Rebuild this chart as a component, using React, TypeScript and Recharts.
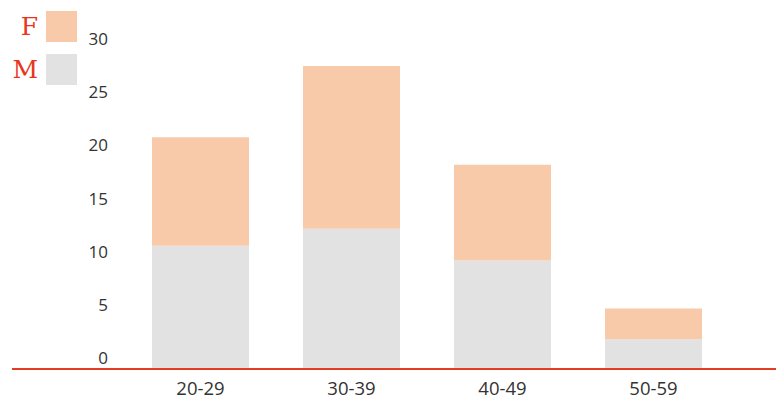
import React from "react";
import { BarChart, Bar, XAxis, YAxis } from "recharts";

const categories = ["20-29", "30-39", "40-49", "50-59"];
const maleValues = [11.6, 13.2, 10.2, 2.8];
const femaleValues = [10.2, 15.3, 9.0, 2.9];
const yTicks = [0, 5, 10, 15, 20, 25, 30];
const seriesNames = ["F", "M"];
const seriesColors = ["#f8caa9", "#e2e2e2"];

const data = categories.map((c, i) => ({ cat: c, M: maleValues[i], F: femaleValues[i] }));

const YTick = (props: any) => {
  const { y, payload } = props;
  return (
    <text x={108} y={y} dy={-5} textAnchor="end" fontSize={17} fill="#333" fontFamily="'Open Sans', sans-serif">
      {payload.value}
    </text>
  );
};

const XTick = (props: any) => {
  const { x, y, payload } = props;
  return (
    <text x={x} y={y} dy={18} textAnchor="middle" fontSize={18.5} fill="#333" fontFamily="'Open Sans', sans-serif">
      {payload.value}
    </text>
  );
};

export default function App() {
  return (
    <div style={{ position: "absolute", left: 0, top: 0, width: 776, height: 400, background: "#fff" }}>
      <BarChart
        width={776}
        height={400}
        data={data}
        margin={{ top: 50, right: 0, left: 11, bottom: 0 }}
      >
        <YAxis
          width={1}
          domain={[0, 30]}
          ticks={yTicks}
          axisLine={false}
          tickLine={false}
          tick={<YTick />}
          interval={0}
        />
        <XAxis
          dataKey="cat"
          height={31}
          padding={{ left: 113, right: 47 }}
          axisLine={{ stroke: "#e23d22", strokeWidth: 2 }}
          tickLine={false}
          tick={<XTick />}
        />
        <Bar dataKey="M" stackId="a" fill={seriesColors[1]} barSize={97} isAnimationActive={false} />
        <Bar dataKey="F" stackId="a" fill={seriesColors[0]} barSize={97} isAnimationActive={false} />
      </BarChart>
      {seriesNames.map((n, i) => (
        <div key={n} style={{ position: "absolute", left: 0, top: 11 + i * 43, height: 31, width: 80 }}>
          <span
            style={{
              position: "absolute",
              right: 42,
              top: 1,
              color: "#e8361c",
              fontFamily: "'DejaVu Serif', serif",
              fontSize: 25,
              lineHeight: "30px",
            }}
          >
            {n}
          </span>
          <div style={{ position: "absolute", left: 46, top: 0, width: 31, height: 31, background: seriesColors[i] }} />
        </div>
      ))}
    </div>
  );
}
